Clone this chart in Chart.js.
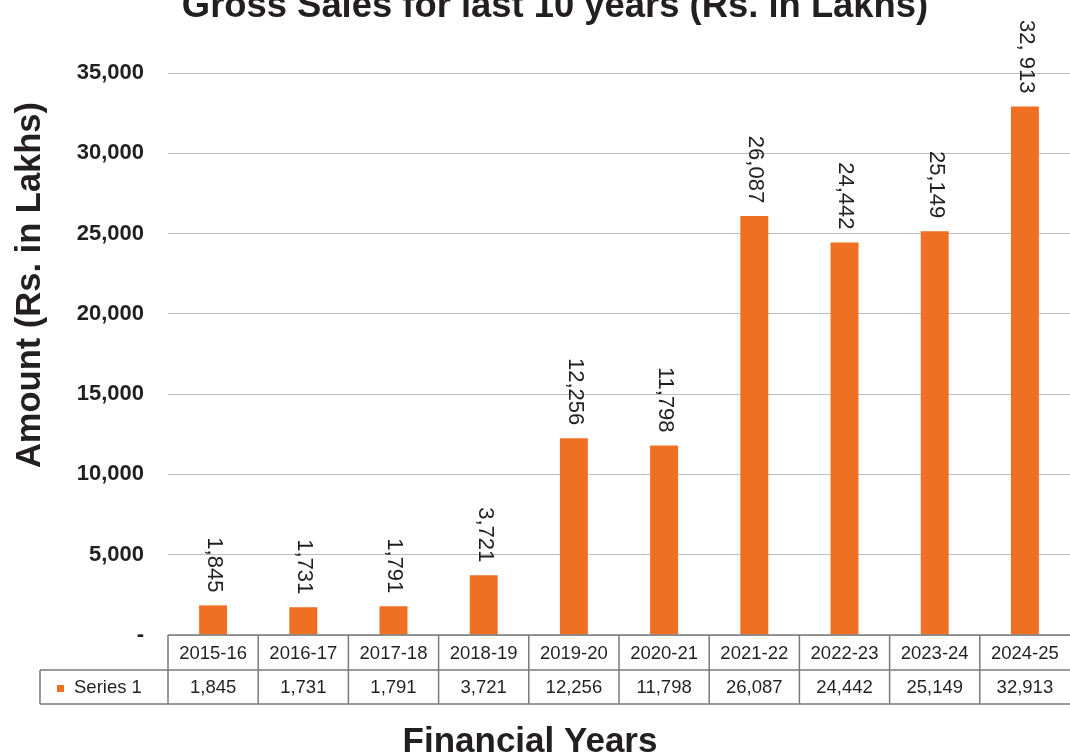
<!DOCTYPE html>
<html>
<head>
<meta charset="utf-8">
<title>Gross Sales for last 10 years</title>
<script src="https://cdn.jsdelivr.net/npm/chart.js@4.4.1/dist/chart.umd.min.js"></script>
<style>
  html, body { margin: 0; padding: 0; background: #fff; }
  #wrap { width: 1070px; height: 754px; position: relative; }
</style>
</head>
<body>
<div id="wrap"><canvas id="salesChart"></canvas></div>
<script>
// Financial years (category axis + table header)
const years = ['2015-16', '2016-17', '2017-18', '2018-19', '2019-20',
               '2020-21', '2021-22', '2022-23', '2023-24', '2024-25'];

// Gross sales, Rs. in Lakhs
const grossSales = [1845, 1731, 1791, 3721, 12256, 11798, 26087, 24442, 25149, 32913];

// Labels as printed above each bar
const barLabels = ['1,845', '1,731', '1,791', '3,721', '12,256',
                   '11,798', '26,087', '24,442', '25,149', '32, 913'];

// Value axis ticks
const yTicks = [0, 5000, 10000, 15000, 20000, 25000, 30000, 35000];

const seriesName = 'Series 1';
const chartTitle = 'Gross Sales for last 10 years (Rs. in Lakhs)';
const xTitle = 'Financial Years';
const yTitle = 'Amount (Rs. in Lakhs)';

const FONT = '"Liberation Sans", Arial, Helvetica, sans-serif';
const TEXT = '#231f20';
const ORANGE = '#f07023';

function fmt(v) {
    return v.toLocaleString('en-US');
}

// Rotated value labels above the bars
const barValueLabels = {
    id: 'barValueLabels',
    afterDatasetsDraw(chart) {
        const ctx = chart.ctx;
        const meta = chart.getDatasetMeta(0);
        ctx.save();
        ctx.font = '22px ' + FONT;
        ctx.fillStyle = TEXT;
        ctx.textAlign = 'right';
        ctx.textBaseline = 'middle';
        meta.data.forEach((bar, i) => {
            ctx.save();
            ctx.translate(bar.x + 1, bar.y - 13);
            ctx.rotate(Math.PI / 2);
            ctx.fillText(barLabels[i], 0, 0);
            ctx.restore();
        });
        ctx.restore();
    }
};

// Chart title and axis titles (placed like the original, not centred on the plot)
const titles = {
    id: 'titles',
    afterDraw(chart) {
        const ctx = chart.ctx;
        ctx.save();
        ctx.fillStyle = TEXT;
        ctx.textAlign = 'center';
        ctx.textBaseline = 'alphabetic';

        ctx.font = 'bold 36.4px ' + FONT;
        ctx.fillText(chartTitle, 555, 17);

        ctx.font = 'bold 35px ' + FONT;
        ctx.fillText(xTitle, 530, 752);

        ctx.font = 'bold 34.5px ' + FONT;
        ctx.translate(40, 285);
        ctx.rotate(-Math.PI / 2);
        ctx.fillText(yTitle, 0, 0);
        ctx.restore();
    }
};

// Data table under the plot (header = years, row = series values)
const dataTable = {
    id: 'dataTable',
    afterDraw(chart) {
        const { ctx, chartArea, scales: { x } } = chart;
        const half = (x.getPixelForValue(1) - x.getPixelForValue(0)) / 2;
        const left = x.getPixelForValue(0) - half;
        const right = x.getPixelForValue(years.length - 1) + half;
        const top = chartArea.bottom;
        const mid = top + 35;
        const bottom = top + 69;
        const legendLeft = 40;

        ctx.save();
        ctx.strokeStyle = '#7a7a7a';
        ctx.lineWidth = 1.5;
        ctx.beginPath();
        ctx.moveTo(left, top); ctx.lineTo(right, top);
        ctx.moveTo(legendLeft, mid); ctx.lineTo(right, mid);
        ctx.moveTo(legendLeft, bottom); ctx.lineTo(right, bottom);
        ctx.moveTo(legendLeft, mid); ctx.lineTo(legendLeft, bottom);
        years.forEach((y, i) => {
            const bx = x.getPixelForValue(i) - half;
            ctx.moveTo(bx, top); ctx.lineTo(bx, bottom);
        });
        ctx.stroke();

        ctx.font = '18.5px ' + FONT;
        ctx.fillStyle = TEXT;
        ctx.textAlign = 'center';
        ctx.textBaseline = 'middle';
        years.forEach((y, i) => {
            const cx = x.getPixelForValue(i);
            ctx.fillText(y, cx, (top + mid) / 2 + 1);
            ctx.fillText(fmt(grossSales[i]), cx, (mid + bottom) / 2 + 1);
        });

        // legend key
        ctx.fillStyle = ORANGE;
        ctx.fillRect(57, (mid + bottom) / 2 - 2, 7, 7);
        ctx.fillStyle = TEXT;
        ctx.textAlign = 'left';
        ctx.fillText(seriesName, 74, (mid + bottom) / 2 + 1);
        ctx.restore();
    }
};

const ctx = document.getElementById('salesChart');

new Chart(ctx, {
    type: 'bar',
    data: {
        labels: years,
        datasets: [{
            label: seriesName,
            data: grossSales,
            backgroundColor: ORANGE,
            borderWidth: 0,
            categoryPercentage: 1,
            barPercentage: 0.31
        }]
    },
    options: {
        responsive: true,
        maintainAspectRatio: false,
        animation: false,
        layout: { padding: { top: 73, right: 0, bottom: 0, left: 0 } },
        plugins: {
            legend: { display: false },
            tooltip: { enabled: false },
            title: { display: false }
        },
        scales: {
            x: {
                grid: { display: false, drawTicks: false },
                border: { display: false },
                ticks: { display: false },
                afterFit(scale) { scale.height = 119; }
            },
            y: {
                min: 0,
                max: 35000,
                afterBuildTicks(axis) {
                    axis.ticks = yTicks.map(v => ({ value: v }));
                },
                grid: { color: '#bdbdbd', lineWidth: 1, drawTicks: false },
                border: { display: false },
                ticks: {
                    color: TEXT,
                    padding: 24,
                    font: { family: FONT, size: 22, weight: 'bold' },
                    callback: v => (v === 0 ? '-' : fmt(v))
                },
                afterFit(scale) { scale.width = 168; }
            }
        }
    },
    plugins: [barValueLabels, dataTable, titles]
});
</script>
</body>
</html>
